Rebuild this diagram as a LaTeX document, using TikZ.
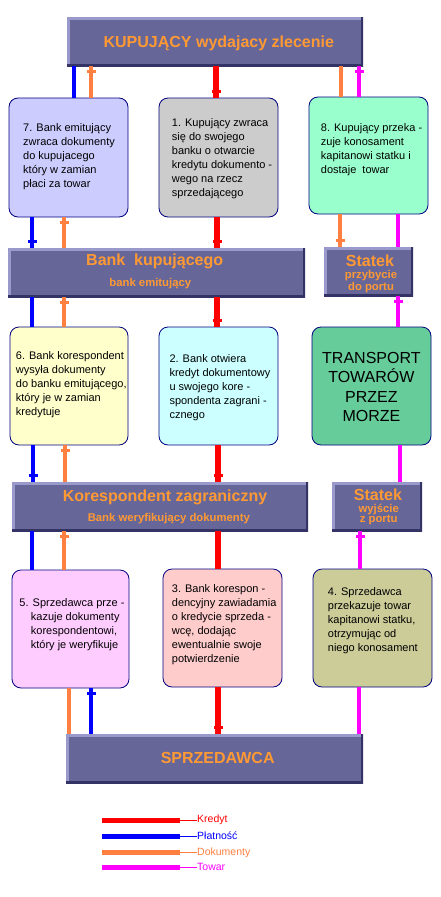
\documentclass[tikz,border=0pt]{standalone}
\usepackage{fontspec}
\setmainfont{Liberation Sans}
\usetikzlibrary{decorations.markings}
\definecolor{barfill}{HTML}{666699}
\definecolor{barlight}{HTML}{9999CC}
\definecolor{bardark}{HTML}{333366}
\definecolor{bartext}{HTML}{FF9933}
\definecolor{lnred}{HTML}{FF0000}
\definecolor{lnblue}{HTML}{0000FF}
\definecolor{lnorange}{HTML}{FF8040}
\definecolor{lnmag}{HTML}{FF00FF}
\definecolor{boxborder}{HTML}{000080}
\definecolor{cb7}{HTML}{CCCCFF}
\definecolor{cb1}{HTML}{CCCCCC}
\definecolor{cb8}{HTML}{99FFCC}
\definecolor{cb6}{HTML}{FFFFCC}
\definecolor{cb2}{HTML}{CCFFFF}
\definecolor{cbt}{HTML}{66CC99}
\definecolor{cb5}{HTML}{FFCCFF}
\definecolor{cb3}{HTML}{FFCCCC}
\definecolor{cb4}{HTML}{CCCC99}
\tikzset{
  barbox/.style={rectangle, inner sep=0pt, fill=barfill,
    path picture={
      \draw[barlight, line width=5pt] (path picture bounding box.south west) -- (path picture bounding box.north west) -- (path picture bounding box.north east);
      \draw[bardark, line width=4pt] (path picture bounding box.south west) -- (path picture bounding box.south east) -- (path picture bounding box.north east);
    }},
  bartitle/.style={inner sep=0pt, text=bartext, font=\bfseries\fontsize{16}{19}\selectfont},
  barsub/.style={inner sep=0pt, text=bartext, align=center, font=\bfseries\fontsize{11.3}{10}\selectfont},
  infobox/.style={rectangle, rounded corners=9pt, draw=boxborder, line width=0.8pt, inner sep=0pt},
  boxtext/.style={inner sep=0pt, anchor=west, align=left, font=\fontsize{11}{14}\selectfont},
  redln/.style={lnred, line width=5.5pt},
  blueln/.style={lnblue, line width=4.6pt},
  orangeln/.style={lnorange, line width=4.6pt},
  magln/.style={lnmag, line width=4.6pt},
  tickS/.style={postaction={decorate, decoration={markings, mark=at position 5pt with {\fill[#1] (-1.5pt,-4.5pt) rectangle (1.5pt,4.5pt);}}}},
  tickE/.style={postaction={decorate, decoration={markings, mark=at position -6pt with {\fill[#1] (-1.5pt,-4.5pt) rectangle (1.5pt,4.5pt);}}}},
  legtext/.style={inner sep=0pt, anchor=west, font=\fontsize{10.5}{12}\selectfont}
}
\begin{document}
\begin{tikzpicture}[x=1pt,y=-1pt]
\useasboundingbox[fill=white] (0,0) rectangle (440,897);

% bars
\node[barbox, minimum width=296pt, minimum height=49pt] (top) at (215,41.5) {};
\node[barbox, minimum width=297pt, minimum height=49pt] (bank) at (156.5,272.5) {};
\node[barbox, minimum width=89pt, minimum height=49pt] (st1) at (368.5,271.5) {};
\node[barbox, minimum width=296pt, minimum height=49pt] (kor) at (160,506.5) {};
\node[barbox, minimum width=90pt, minimum height=49pt] (st2) at (377,506.5) {};
\node[barbox, minimum width=297pt, minimum height=49pt] (sel) at (214.5,758.5) {};

\node[bartitle] (toptxt) at (218.8,43.3) {KUPUJĄCY wydajacy zlecenie};
\node[bartitle] (banktxt) at (154.7,261.7) {Bank\ \ kupującego};
\node[barsub] (banksub) at (150.3,283.3) {bank emitujący};
\node[bartitle] (st1txt) at (370,260.7) {Statek};
\node[barsub] (st1sub) at (371,281.5) {przybycie\\do portu};
\node[bartitle] (kortxt) at (165,497.3) {Korespondent zagraniczny};
\node[barsub] (korsub) at (168.8,518.3) {Bank weryfikujący dokumenty};
\node[bartitle] (st2txt) at (378,494.3) {Statek};
\node[barsub] (st2sub) at (378.7,514.3) {wyjście\\z portu};
\node[bartitle] (seltxt) at (217.7,758.3) {SPRZEDAWCA};

% boxes
\node[infobox, fill=cb7, minimum width=119pt, minimum height=119pt] (b7) at (68.5,157.5) {};
\node[infobox, fill=cb1, minimum width=119pt, minimum height=119pt] (b1) at (218.5,157.5) {};
\node[infobox, fill=cb8, minimum width=119pt, minimum height=117pt] (b8) at (368.5,155.5) {};
\node[infobox, fill=cb6, minimum width=118pt, minimum height=118pt] (b6) at (69,386) {};
\node[infobox, fill=cb2, minimum width=119pt, minimum height=118pt] (b2) at (218.5,386) {};
\node[infobox, fill=cbt, minimum width=119pt, minimum height=118pt] (bt) at (371.5,386) {};
\node[infobox, fill=cb5, minimum width=117pt, minimum height=118pt] (b5) at (70.5,629) {};
\node[infobox, fill=cb3, minimum width=119pt, minimum height=118pt] (b3) at (222.5,628) {};
\node[infobox, fill=cb4, minimum width=119pt, minimum height=118pt] (b4) at (372.5,628) {};

\node[boxtext] (t7) at (23,156.3) {7. Bank emitujący\\zwraca dokumenty\\do kupujacego\\który w zamian\\płaci za towar};
\node[boxtext] (t1) at (171.7,158.3) {1. Kupujący zwraca\\się do swojego\\banku o otwarcie\\kredytu dokumento -\\wego na rzecz\\sprzedającego};
\node[boxtext] (t8) at (320.7,149.3) {8. Kupujący przeka -\\zuje konosament\\kapitanowi statku i\\dostaje\ \ towar};
\node[boxtext] (t6) at (15.7,384.7) {6. Bank korespondent\\wysyła dokumenty\\do banku emitującego,\\który je w zamian\\kredytuje};
\node[boxtext] (t2) at (169.3,387.3) {2. Bank otwiera\\kredyt dokumentowy\\u swojego kore -\\spondenta zagrani -\\cznego};
\node[inner sep=0pt, align=center, font=\fontsize{16}{19.3}\selectfont] (tt) at (371.4,387) {TRANSPORT\\TOWARÓW\\PRZEZ\\MORZE};
\node[boxtext] (t5) at (19.3,625) {5. Sprzedawca prze -\\\hspace*{11.4pt}kazuje dokumenty\\\hspace*{11.4pt}korespondentowi,\\\hspace*{11.4pt}który je weryfikuje};
\node[boxtext] (t3) at (171.7,625) {3. Bank korespon -\\dencyjny zawiadamia\\o kredycie sprzeda -\\wcę, dodając\\ewentualnie swoje\\potwierdzenie};
\node[boxtext] (t4) at (327.7,620.3) {4. Sprzedawca\\przekazuje towar\\kapitanowi statku,\\otrzymując od\\niego konosament};

% connectors: top -> row 1
\draw[blueln] (74,0 |- top.south) -- (74,0 |- b7.north);
\draw[orangeln, tickS=lnorange] (91,0 |- top.south) -- (91,0 |- b7.north);
\draw[redln, tickE=lnred] (216,0 |- top.south) -- (216,0 |- b1.north);
\draw[orangeln] (341,0 |- top.south) -- (341,0 |- b8.north);
\draw[magln, tickS=lnmag] (359,0 |- top.south) -- (359,0 |- b8.north);

% row 1 -> bank / statek
\draw[blueln, tickE=lnblue] (32,0 |- b7.south) -- (32,0 |- bank.north);
\draw[orangeln, tickS=lnorange] (64,0 |- b7.south) -- (64,0 |- bank.north);
\draw[redln, tickE=lnred] (217,0 |- b1.south) -- (217,0 |- bank.north);
\draw[orangeln, tickE=lnorange] (340,0 |- b8.south) -- (340,0 |- st1.north);
\draw[magln] (398,0 |- b8.south) -- (398,0 |- st1.north);

% bank / statek -> row 2
\draw[blueln] (32,0 |- bank.south) -- (32,0 |- b6.north);
\draw[orangeln, tickS=lnorange] (64,0 |- bank.south) -- (64,0 |- b6.north);
\draw[redln, tickE=lnred] (217,0 |- bank.south) -- (217,0 |- b2.north);
\draw[magln, tickS=lnmag] (398,0 |- st1.south) -- (398,0 |- bt.north);

% row 2 -> korespondent / statek
\draw[blueln, tickE=lnblue] (33,0 |- b6.south) -- (33,0 |- kor.north);
\draw[orangeln, tickS=lnorange] (65,0 |- b6.south) -- (65,0 |- kor.north);
\draw[redln, tickE=lnred] (218,0 |- b2.south) -- (218,0 |- kor.north);
\draw[magln] (400,0 |- bt.south) -- (400,0 |- st2.north);

% korespondent / statek -> row 3
\draw[blueln] (32,0 |- kor.south) -- (32,0 |- b5.north);
\draw[orangeln, tickS=lnorange] (64,0 |- kor.south) -- (64,0 |- b5.north);
\draw[redln] (218,0 |- kor.south) -- (218,0 |- b3.north);
\draw[magln, tickS=lnmag] (360,0 |- st2.south) -- (360,0 |- b4.north);

% row 3 -> seller
\draw[orangeln] (69,0 |- b5.south) -- (69,0 |- sel.north);
\draw[blueln, tickS=lnblue] (91,0 |- b5.south) -- (91,0 |- sel.north);
\draw[redln, tickE=lnred] (218,0 |- b3.south) -- (218,0 |- sel.north);
\draw[magln] (359,0 |- b4.south) -- (359,0 |- sel.north);

% legend
\node[legtext, text=lnred] (lk) at (197,820) {Kredyt};
\node[legtext, text=lnblue] (lp) at (197,836) {Płatność};
\node[legtext, text=lnorange] (ld) at (197,852.3) {Dokumenty};
\node[legtext, text=lnmag] (lt) at (197,867.3) {Towar};
\coordinate (lk0) at (102,820); \coordinate (lk1) at (180,820);
\coordinate (lp0) at (102,836); \coordinate (lp1) at (180,836);
\coordinate (ld0) at (102,852.3); \coordinate (ld1) at (180,852.3);
\coordinate (lt0) at (102,867.3); \coordinate (lt1) at (180,867.3);
\draw[lnred, line width=5pt] (lk0) -- (lk1); \draw[lnred, line width=0.9pt] (lk1) -- (lk.west);
\draw[lnblue, line width=5pt] (lp0) -- (lp1); \draw[lnblue, line width=0.9pt] (lp1) -- (lp.west);
\draw[lnorange, line width=5pt] (ld0) -- (ld1); \draw[lnorange, line width=0.9pt] (ld1) -- (ld.west);
\draw[lnmag, line width=5pt] (lt0) -- (lt1); \draw[lnmag, line width=0.9pt] (lt1) -- (lt.west);
\end{tikzpicture}
\end{document}
